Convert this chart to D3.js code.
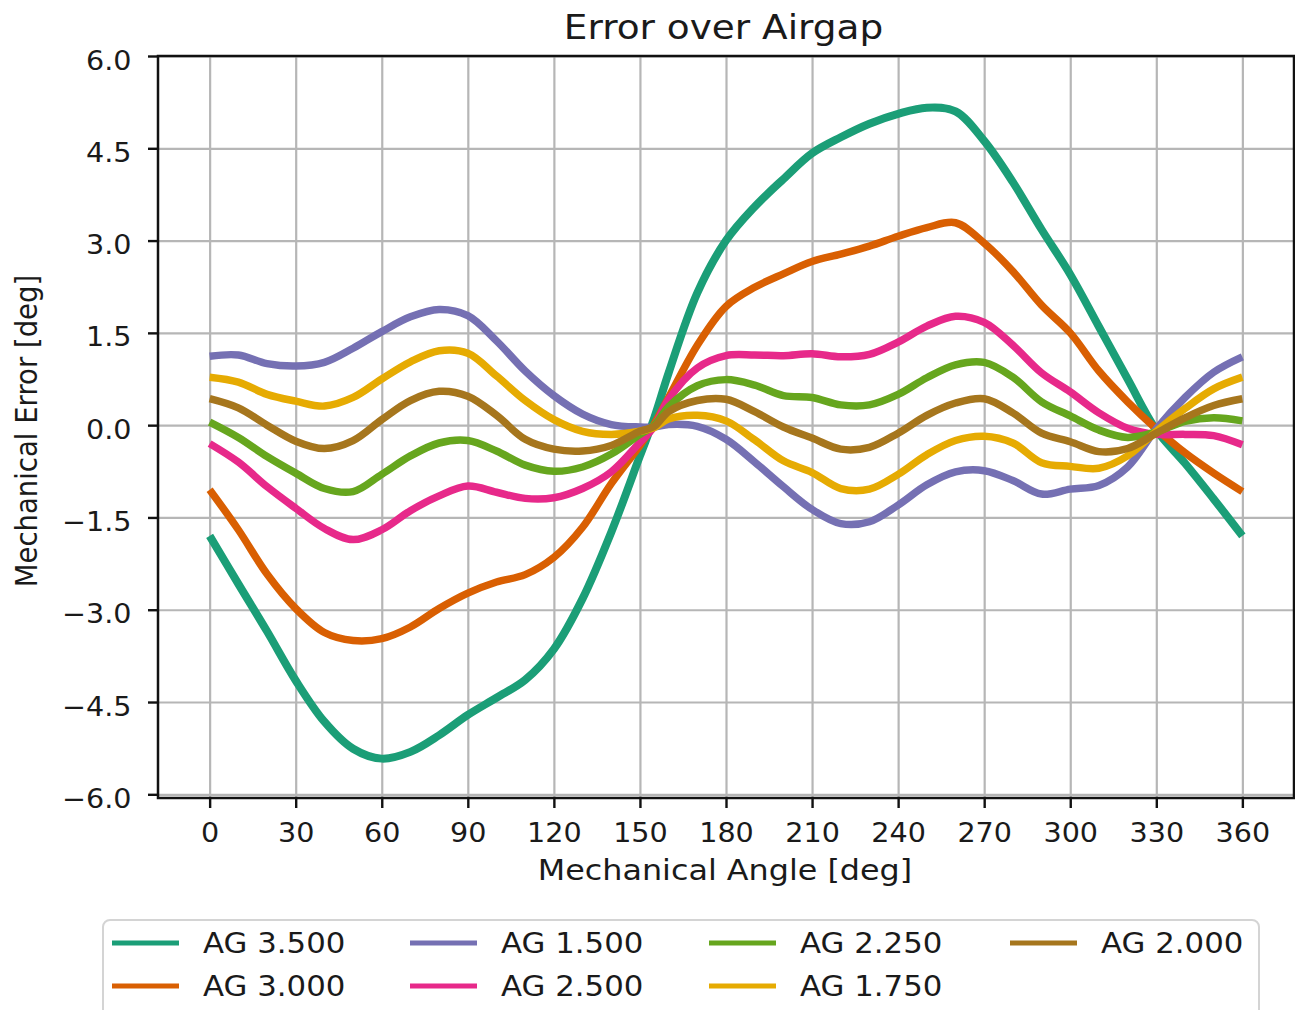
<!DOCTYPE html>
<html>
<head>
<meta charset="utf-8">
<script src="https://cdn.jsdelivr.net/npm/d3@7"></script>
<style>
  html, body { margin: 0; padding: 0; background: #fff; }
  svg { display: block; font-family: "DejaVu Sans", sans-serif; }
</style>
</head>
<body>
<svg id="chart" width="1295" height="1010"></svg>
<script>
// ---- data ----
const angles = [0,10,20,30,40,50,60,70,80,90,100,110,120,130,140,150,155,160,170,180,190,200,210,220,230,240,250,260,270,280,290,300,310,320,330,340,350,360];

const seriesNames = ["AG 3.500", "AG 3.000", "AG 1.500", "AG 2.500", "AG 2.250", "AG 1.750", "AG 2.000"];
const seriesColors = ["#1b9e77", "#d95f02", "#7570b3", "#e7298a", "#66a61e", "#e6ab02", "#a6761d"];

const ag3500 = [-1.80,-2.58,-3.35,-4.15,-4.82,-5.26,-5.42,-5.31,-5.04,-4.71,-4.43,-4.14,-3.64,-2.82,-1.74,-0.50,0.12,0.85,2.15,3.00,3.55,4.00,4.42,4.68,4.90,5.06,5.16,5.10,4.62,3.95,3.18,2.45,1.60,0.75,-0.08,-0.62,-1.20,-1.80];
const ag3000 = [-1.05,-1.70,-2.42,-2.98,-3.37,-3.50,-3.47,-3.28,-2.98,-2.73,-2.55,-2.43,-2.15,-1.66,-0.95,-0.33,0.02,0.45,1.30,1.93,2.24,2.46,2.66,2.78,2.91,3.07,3.21,3.29,2.96,2.50,1.95,1.50,0.88,0.38,-0.06,-0.45,-0.78,-1.08];
const ag1500 = [1.12,1.14,1.00,0.96,1.02,1.25,1.52,1.76,1.88,1.78,1.37,0.88,0.48,0.18,0.01,-0.03,-0.03,0.01,-0.02,-0.23,-0.60,-1.00,-1.37,-1.60,-1.57,-1.30,-0.97,-0.76,-0.74,-0.90,-1.12,-1.04,-0.98,-0.68,-0.06,0.45,0.86,1.11];
const ag2500 = [-0.30,-0.60,-1.00,-1.35,-1.68,-1.86,-1.70,-1.39,-1.15,-0.99,-1.09,-1.19,-1.18,-1.03,-0.76,-0.28,-0.02,0.42,0.93,1.13,1.14,1.13,1.16,1.11,1.15,1.35,1.61,1.77,1.67,1.30,0.85,0.54,0.20,-0.05,-0.15,-0.15,-0.17,-0.32];
const ag2250 = [0.05,-0.20,-0.51,-0.78,-1.03,-1.08,-0.80,-0.50,-0.29,-0.25,-0.42,-0.65,-0.75,-0.68,-0.47,-0.15,0.00,0.30,0.64,0.74,0.65,0.48,0.45,0.33,0.33,0.50,0.77,0.98,1.02,0.78,0.38,0.15,-0.08,-0.20,-0.11,0.06,0.12,0.07];
const ag1750 = [0.78,0.70,0.50,0.39,0.31,0.45,0.75,1.03,1.21,1.17,0.80,0.40,0.09,-0.10,-0.15,-0.10,-0.04,0.10,0.16,0.07,-0.24,-0.58,-0.77,-1.03,-1.04,-0.80,-0.48,-0.25,-0.18,-0.29,-0.61,-0.67,-0.70,-0.50,-0.10,0.27,0.59,0.78];
const ag2000 = [0.43,0.28,0.00,-0.26,-0.38,-0.25,0.09,0.40,0.55,0.47,0.16,-0.23,-0.39,-0.42,-0.33,-0.10,-0.02,0.22,0.40,0.42,0.22,-0.03,-0.21,-0.39,-0.36,-0.13,0.16,0.36,0.43,0.20,-0.13,-0.27,-0.43,-0.38,-0.13,0.12,0.32,0.43];

const seriesValues = [ag3500, ag3000, ag1500, ag2500, ag2250, ag1750, ag2000];

const xTicks = [0,30,60,90,120,150,180,210,240,270,300,330,360];
const yTicks = [-6.0,-4.5,-3.0,-1.5,0.0,1.5,3.0,4.5,6.0];

const titleText = "Error over Airgap";
const xLabelText = "Mechanical Angle [deg]";
const yLabelText = "Mechanical Error [deg]";

// ---- layout ----
const svg = d3.select("#chart");
const L = 158, R = 1294, T = 56, B = 798;
const SX = 1.1; // horizontal stretch of the reference's text

const x = d3.scaleLinear().domain([-18, 378]).range([L, R]);
const y = d3.scaleLinear().domain([-6.06, 6.0]).range([B, T]);

svg.append("rect").attr("width", 1295).attr("height", 1010).attr("fill", "#fff");

// grid
const gridColor = "#b6b6b6";
svg.append("g")
  .attr("transform", `translate(0,${B})`)
  .call(d3.axisBottom(x).tickValues(xTicks).tickSize(-(B - T)).tickFormat(""))
  .call(g => g.select(".domain").remove())
  .call(g => g.selectAll("line").attr("stroke", gridColor).attr("stroke-width", 2.2));
svg.append("g")
  .attr("transform", `translate(${L},0)`)
  .call(d3.axisLeft(y).tickValues(yTicks).tickSize(-(R - L)).tickFormat(""))
  .call(g => g.select(".domain").remove())
  .call(g => g.selectAll("line").attr("stroke", gridColor).attr("stroke-width", 2.2));

// lines
const line = d3.line()
  .x((d, i) => x(angles[i]))
  .y(d => y(d))
  .curve(d3.curveCatmullRom.alpha(0.5));

svg.append("g").selectAll("path")
  .data(seriesValues)
  .join("path")
  .attr("d", d => line(d))
  .attr("fill", "none")
  .attr("stroke", (d, i) => seriesColors[i])
  .attr("stroke-width", (d, i) => i === 0 ? 8 : 7.5)
  .attr("stroke-linejoin", "round")
  .attr("stroke-linecap", "butt");

// spines
svg.append("rect")
  .attr("x", L).attr("y", T).attr("width", R - L).attr("height", B - T)
  .attr("fill", "none").attr("stroke", "#111").attr("stroke-width", 2.5);

// axes (ticks + labels)
const fmt = d3.format(".1f");
const xAxisG = svg.append("g")
  .attr("transform", `translate(0,${B})`)
  .call(d3.axisBottom(x).tickValues(xTicks).tickSize(10).tickSizeOuter(0).tickFormat(d3.format("d")));
xAxisG.select(".domain").remove();
xAxisG.selectAll("line").attr("stroke", "#111").attr("stroke-width", 2.4);
xAxisG.selectAll("text")
  .attr("y", 44).attr("dy", 0)
  .attr("transform", `scale(${SX},1)`)
  .attr("font-size", 26).attr("fill", "#1a1a1a")
  .attr("font-family", "DejaVu Sans, sans-serif");

const yAxisG = svg.append("g")
  .attr("transform", `translate(${L},0)`)
  .call(d3.axisLeft(y).tickValues(yTicks).tickSize(10).tickSizeOuter(0)
    .tickFormat(d => fmt(d).replace("-", "\u2212")));
yAxisG.select(".domain").remove();
yAxisG.selectAll("line").attr("stroke", "#111").attr("stroke-width", 2.4);
yAxisG.selectAll("text")
  .attr("x", -26.5 / SX).attr("dy", 13)
  .attr("transform", `scale(${SX},1)`)
  .attr("font-size", 26).attr("fill", "#1a1a1a")
  .attr("font-family", "DejaVu Sans, sans-serif");

// title & axis labels
svg.append("text")
  .attr("transform", `translate(723.5,39) scale(${SX},1)`)
  .attr("text-anchor", "middle")
  .attr("font-size", 34)
  .attr("fill", "#1a1a1a")
  .text(titleText);
svg.append("text")
  .attr("transform", `translate(725,880) scale(1.12,1)`)
  .attr("text-anchor", "middle")
  .attr("font-size", 28.4)
  .attr("fill", "#1a1a1a")
  .text(xLabelText);
svg.append("text")
  .attr("transform", `translate(37,431) rotate(-90) scale(1,1.1)`)
  .attr("text-anchor", "middle")
  .attr("font-size", 27.5)
  .attr("fill", "#1a1a1a")
  .text(yLabelText);

// legend
const legend = svg.append("g");
legend.append("rect")
  .attr("x", 103).attr("y", 920).attr("width", 1156).attr("height", 110)
  .attr("rx", 7).attr("ry", 7)
  .attr("fill", "#fff").attr("stroke", "#d4d4d4").attr("stroke-width", 2);

const colX = [112, 410, 709, 1010];
const rowY = [943, 986];
seriesNames.forEach((name, i) => {
  const col = Math.floor(i / 2), row = i % 2;
  const hx = colX[col], hy = rowY[row];
  legend.append("line")
    .attr("x1", hx).attr("x2", hx + 67)
    .attr("y1", hy).attr("y2", hy)
    .attr("stroke", seriesColors[i]).attr("stroke-width", 5);
  legend.append("text")
    .attr("transform", `translate(${hx + 91},${hy + 10}) scale(1.12,1)`)
    .attr("font-size", 27.5)
    .attr("fill", "#1a1a1a")
    .text(name);
});
</script>
</body>
</html>
